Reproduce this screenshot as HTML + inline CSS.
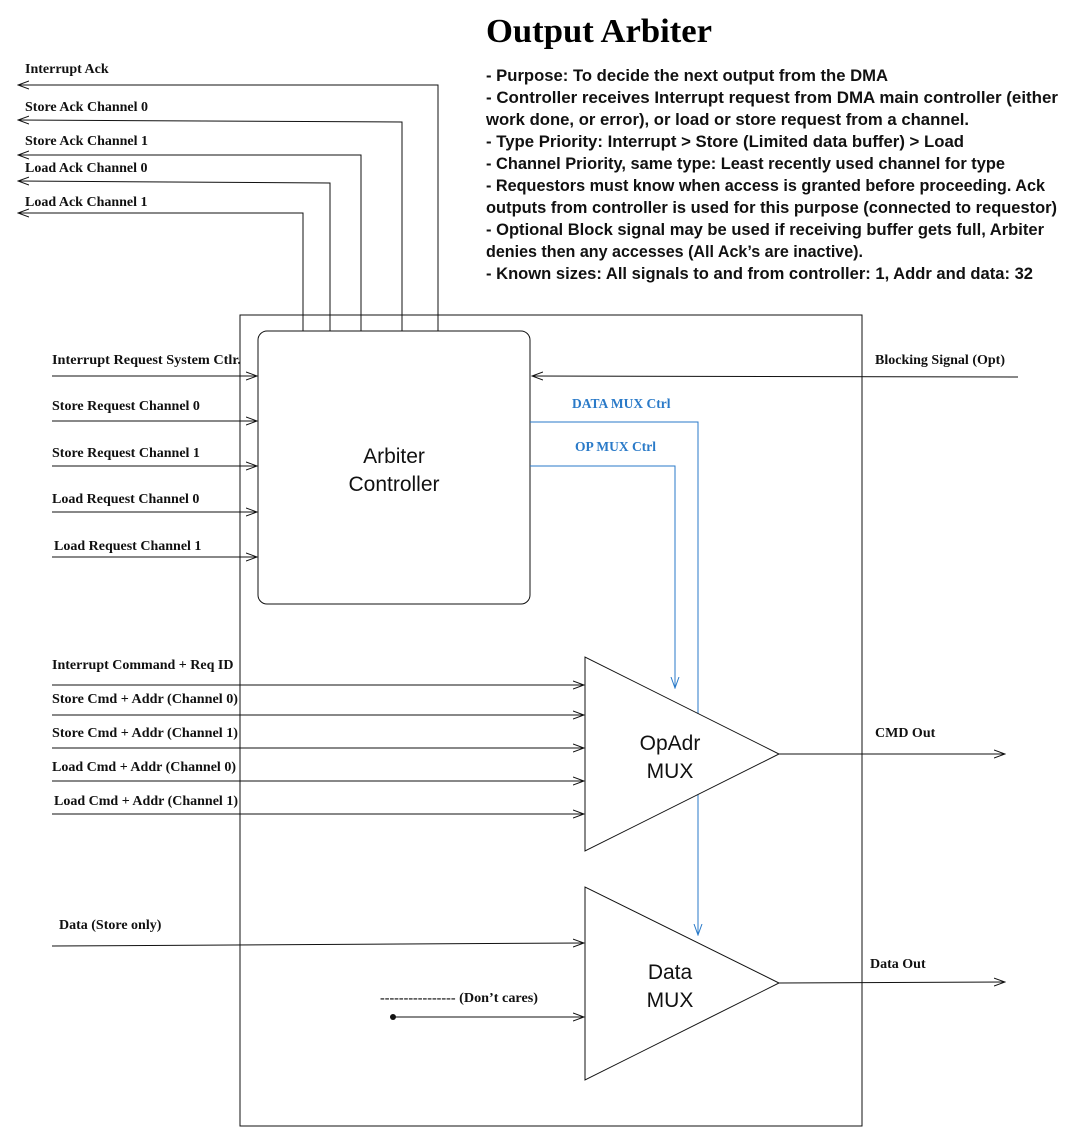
<!DOCTYPE html>
<html><head><meta charset="utf-8"><style>
html,body{margin:0;padding:0;background:#fff;}
svg{display:block;}
.l{font-family:"Liberation Serif",serif;font-weight:bold;font-size:14px;fill:#111;}
.b{font-family:"Liberation Serif",serif;font-weight:bold;font-size:13.5px;fill:#2a7ac8;}
.t{font-family:"Liberation Sans",sans-serif;font-weight:bold;font-size:17px;fill:#111;}
.c{font-family:"Liberation Sans",sans-serif;font-size:21px;fill:#111;}
</style></head><body>
<svg width="1071" height="1137" viewBox="0 0 1071 1137" xmlns="http://www.w3.org/2000/svg">
<defs>
<marker id="a" markerWidth="12" markerHeight="10" refX="11" refY="5" orient="auto" markerUnits="userSpaceOnUse">
<path d="M0,1 L11,5 L0,9" fill="none" stroke="#111" stroke-width="1"/></marker>
<marker id="ab" markerWidth="12" markerHeight="10" refX="11" refY="5" orient="auto" markerUnits="userSpaceOnUse">
<path d="M0,1 L11,5 L0,9" fill="none" stroke="#2a7ac8" stroke-width="1"/></marker>
</defs>
<text x="486" y="42" font-family="Liberation Serif,serif" font-weight="bold" font-size="34" textLength="226" lengthAdjust="spacingAndGlyphs">Output Arbiter</text>
<g class="t">
<text x="486" y="81" textLength="402" lengthAdjust="spacingAndGlyphs">- Purpose: To decide the next output from the DMA</text>
<text x="486" y="103" textLength="572" lengthAdjust="spacingAndGlyphs">- Controller receives Interrupt request from DMA main controller (either</text>
<text x="486" y="125" textLength="483" lengthAdjust="spacingAndGlyphs">work done, or error), or load or store request from a channel.</text>
<text x="486" y="147" textLength="478" lengthAdjust="spacingAndGlyphs">- Type Priority: Interrupt &gt; Store (Limited data buffer) &gt; Load</text>
<text x="486" y="169" textLength="519" lengthAdjust="spacingAndGlyphs">- Channel Priority, same type: Least recently used channel for type</text>
<text x="486" y="191" textLength="559" lengthAdjust="spacingAndGlyphs">- Requestors must know when access is granted before proceeding. Ack</text>
<text x="486" y="213" textLength="571" lengthAdjust="spacingAndGlyphs">outputs from controller is used for this purpose (connected to requestor)</text>
<text x="486" y="235" textLength="558" lengthAdjust="spacingAndGlyphs">- Optional Block signal may be used if receiving buffer gets full, Arbiter</text>
<text x="486" y="257" textLength="377" lengthAdjust="spacingAndGlyphs">denies then any accesses (All Ack’s are inactive).</text>
<text x="486" y="279" textLength="547" lengthAdjust="spacingAndGlyphs">- Known sizes: All signals to and from controller: 1, Addr and data: 32</text>
</g>
<g fill="none" stroke="#111" stroke-width="1">
<rect x="240" y="315" width="622" height="811"/>
<rect x="258" y="331" width="272" height="273" rx="9"/>
<polyline points="438,331 438,85 18,85" marker-end="url(#a)"/>
<polyline points="402,331 402,122 18,120" marker-end="url(#a)"/>
<polyline points="361,331 361,155 18,155" marker-end="url(#a)"/>
<polyline points="330,331 330,183 18,181" marker-end="url(#a)"/>
<polyline points="303,331 303,213 18,213" marker-end="url(#a)"/>
<line x1="52" y1="376" x2="257" y2="376" marker-end="url(#a)"/>
<line x1="52" y1="421" x2="257" y2="421" marker-end="url(#a)"/>
<line x1="52" y1="466" x2="257" y2="466" marker-end="url(#a)"/>
<line x1="52" y1="512" x2="257" y2="512" marker-end="url(#a)"/>
<line x1="52" y1="557" x2="257" y2="557" marker-end="url(#a)"/>
<line x1="1018" y1="377" x2="532" y2="376" marker-end="url(#a)"/>
<line x1="52" y1="685" x2="584" y2="685" marker-end="url(#a)"/>
<line x1="52" y1="715" x2="584" y2="715" marker-end="url(#a)"/>
<line x1="52" y1="748" x2="584" y2="748" marker-end="url(#a)"/>
<line x1="52" y1="781" x2="584" y2="781" marker-end="url(#a)"/>
<line x1="52" y1="814" x2="584" y2="814" marker-end="url(#a)"/>
<line x1="52" y1="946" x2="584" y2="943" marker-end="url(#a)"/>
<line x1="393" y1="1017" x2="584" y2="1017" marker-end="url(#a)"/>
<line x1="779" y1="754" x2="1005" y2="754" marker-end="url(#a)"/>
<line x1="779" y1="983" x2="1005" y2="982" marker-end="url(#a)"/>
</g>
<circle cx="393" cy="1017" r="3" fill="#111"/>
<g fill="none" stroke="#2a7ac8" stroke-width="1">
<polyline points="530,422 698,422 698,935" marker-end="url(#ab)"/>
<polyline points="530,466 675,466 675,688" marker-end="url(#ab)"/>
</g>
<polygon points="585,657 585,851 779,754" fill="#fff" stroke="#111"/>
<polygon points="585,887 585,1080 779,983" fill="#fff" stroke="#111"/>
<g class="c" text-anchor="middle">
<text x="394" y="463">Arbiter</text><text x="394" y="491">Controller</text>
<text x="670" y="750">OpAdr</text><text x="670" y="778">MUX</text>
<text x="670" y="979">Data</text><text x="670" y="1007">MUX</text>
</g>
<g class="l">
<text x="25" y="73">Interrupt Ack</text>
<text x="25" y="111">Store Ack Channel 0</text>
<text x="25" y="145">Store Ack Channel 1</text>
<text x="25" y="172">Load Ack Channel 0</text>
<text x="25" y="206">Load Ack Channel 1</text>
<text x="52" y="364" textLength="189" lengthAdjust="spacingAndGlyphs">Interrupt Request  System Ctlr.</text>
<text x="52" y="410">Store Request Channel 0</text>
<text x="52" y="457">Store Request Channel 1</text>
<text x="52" y="503">Load Request Channel 0</text>
<text x="54" y="550">Load Request Channel 1</text>
<text x="875" y="364" textLength="130" lengthAdjust="spacingAndGlyphs">Blocking Signal (Opt)</text>
<text x="52" y="669">Interrupt Command + Req ID</text>
<text x="52" y="703" textLength="186" lengthAdjust="spacingAndGlyphs">Store Cmd + Addr (Channel 0)</text>
<text x="52" y="737" textLength="186" lengthAdjust="spacingAndGlyphs">Store Cmd + Addr (Channel 1)</text>
<text x="52" y="771" textLength="184" lengthAdjust="spacingAndGlyphs">Load Cmd + Addr (Channel 0)</text>
<text x="54" y="805" textLength="184" lengthAdjust="spacingAndGlyphs">Load Cmd + Addr (Channel 1)</text>
<text x="59" y="929">Data (Store only)</text>
<text x="380" y="1002" textLength="158" lengthAdjust="spacingAndGlyphs">---------------- (Don’t cares)</text>
<text x="875" y="737">CMD Out</text>
<text x="870" y="968">Data Out</text>
</g>
<g class="b">
<text x="572" y="408">DATA MUX Ctrl</text>
<text x="575" y="451">OP MUX Ctrl</text>
</g>
</svg>
</body></html>
